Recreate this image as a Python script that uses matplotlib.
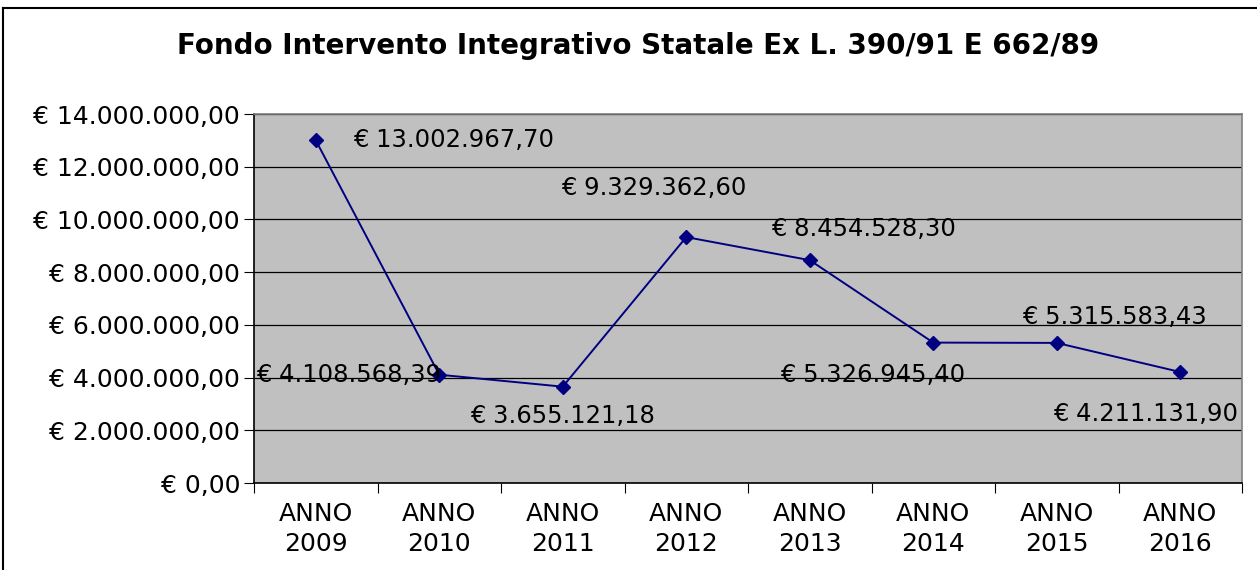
import matplotlib
matplotlib.use('Agg')
import matplotlib.pyplot as plt
from matplotlib.lines import Line2D
from matplotlib.ticker import FuncFormatter, FixedLocator

anni = ['ANNO\n2009', 'ANNO\n2010', 'ANNO\n2011', 'ANNO\n2012',
        'ANNO\n2013', 'ANNO\n2014', 'ANNO\n2015', 'ANNO\n2016']
valori = [13002967.70, 4108568.39, 3655121.18, 9329362.60,
          8454528.30, 5326945.40, 5315583.43, 4211131.90]
etichette = ['€ 13.002.967,70', '€ 4.108.568,39', '€ 3.655.121,18',
             '€ 9.329.362,60', '€ 8.454.528,30', '€ 5.326.945,40',
             '€ 5.315.583,43', '€ 4.211.131,90']

# spostamento delle etichette (pixel) e allineamento
offsets = [(37, 0), (2, 0), (0, -29), (-33, 49),
           (54, 31), (-61, -32), (58, 26), (-35, -42)]
allineamenti = ['left', 'right', 'center', 'center',
                'center', 'center', 'center', 'center']


def euro(v, pos=None):
    s = f'{v:,.2f}'.replace(',', 'X').replace('.', ',').replace('X', '.')
    return '€ ' + s


plt.rcParams['font.family'] = ['DejaVu Sans']

fig = plt.figure(figsize=(12.57, 5.7), dpi=100)
ax = fig.add_axes([254 / 1257, 1 - 483 / 570, (1242 - 254) / 1257, (483 - 114) / 570])
ax.set_facecolor('#C0C0C0')

x = list(range(len(valori)))
ax.plot(x, valori, color='#000080', lw=1.4, marker='D', ms=7, zorder=3)

for i, (v, t) in enumerate(zip(valori, etichette)):
    ax.annotate(t, (i, v), xytext=offsets[i], textcoords='offset pixels',
                ha=allineamenti[i], va='center', fontsize=17.5, color='black',
                zorder=4)

ax.set_xlim(-0.5, 7.5)
ax.set_ylim(0, 14000000)
ax.set_yticks(range(0, 14000001, 2000000))
ax.yaxis.set_major_formatter(FuncFormatter(euro))
ax.grid(axis='y', color='black', lw=0.9)
ax.set_axisbelow(True)

ax.set_xticks([i - 0.5 for i in range(len(anni) + 1)])
ax.set_xticklabels([])
ax.xaxis.set_minor_locator(FixedLocator(x))
ax.set_xticklabels(anni, minor=True)
ax.tick_params(axis='x', which='major', direction='out', length=7, color='black')
ax.tick_params(axis='x', which='minor', length=0, labelsize=18, pad=14)
ax.tick_params(axis='y', direction='out', length=7, labelsize=18, pad=3)
for lab in ax.get_xticklabels(minor=True):
    lab.set_linespacing(1.3)

ax.spines['left'].set_color('black')
ax.spines['bottom'].set_color('black')
ax.spines['top'].set_color('#808080')
ax.spines['right'].set_color('#808080')
for s in ax.spines.values():
    s.set_linewidth(1.2)

fig.text(0.508, 1 - 46 / 570, 'Fondo Intervento Integrativo Statale Ex L. 390/91 E 662/89',
         ha='center', va='center', fontsize=20, fontweight='bold')

# cornice esterna (solo bordo superiore e sinistro visibili)
fig.add_artist(Line2D([3 / 1257, 1], [1 - 8 / 570, 1 - 8 / 570], color='black', lw=1.5))
fig.add_artist(Line2D([3 / 1257, 3 / 1257], [0, 1 - 8 / 570], color='black', lw=1.5))

fig.savefig('out.png', dpi=100)
